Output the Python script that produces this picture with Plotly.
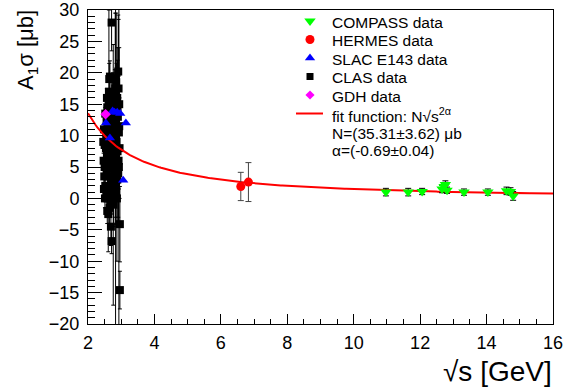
import numpy as np
import plotly.graph_objects as go

W, H = 578, 392
PL, PR, PT, PB = 88, 553, 10, 324  # plot area in pixels

# ---------------- data ----------------
compass_x = [10.97, 11.64, 12.06, 12.66, 12.72, 12.76, 12.81, 13.32, 14.04, 14.60, 14.72, 14.80]
compass_y = [1.0, 1.0, 1.1, 1.5, 1.9, 2.2, 1.3, 1.0, 1.0, 1.2, 1.1, 0.4]
compass_e = [0.6, 0.6, 0.5, 0.6, 0.6, 0.6, 0.5, 0.5, 0.5, 0.6, 0.6, 0.7]

hermes_x = [6.60, 6.83]
hermes_y = [1.9, 2.6]
hermes_e = [2.25, 3.1]

slac_x = [2.54, 2.66, 2.74, 2.80, 2.88, 2.97, 3.14, 3.06]
slac_y = [12.0, 9.6, 13.9, 13.7, 13.7, 13.5, 12.0, 2.9]

gdh_x = [2.53]
gdh_y = [13.4]

clas_x = [2.71, 2.91, 2.66, 2.76, 2.85, 2.82, 2.70, 2.62, 2.88, 2.58,
          2.67, 2.74, 2.79, 2.56, 2.60, 2.64, 2.69, 2.73, 2.78, 2.84,
          2.90, 2.93, 2.55, 2.59, 2.63, 2.68, 2.72, 2.77, 2.81, 2.86,
          2.89, 2.54, 2.57, 2.61, 2.66, 2.70, 2.75, 2.80, 2.85, 2.92,
          2.53, 2.56, 2.60, 2.64, 2.69, 2.74, 2.79, 2.83, 2.88, 2.52,
          2.55, 2.59, 2.62, 2.67, 2.72, 2.77, 2.82, 2.51, 2.58, 2.65,
          2.71, 2.96, 2.69, 2.96, 2.83, 2.93, 2.76, 2.63, 2.87, 2.61,
          2.48, 2.50, 2.47, 2.49, 2.52, 2.46, 2.50, 2.48, 2.94, 2.95,
          2.91, 2.94, 2.89, 2.92, 2.57, 2.68, 2.75, 2.81, 2.86, 2.64]
clas_y = [28.0, 20.2, 19.4, 19.0, 18.5, 17.5, 16.8, 15.5, 16.0, 14.5,
          14.0, 13.5, 14.8, 12.8, 12.0, 11.5, 12.5, 11.0, 12.2, 11.8,
          13.0, 10.5, 10.0, 9.5, 10.5, 9.0, 8.5, 9.8, 8.0, 9.0,
          7.5, 8.0, 7.0, 6.5, 7.5, 6.0, 5.5, 6.8, 5.0, 6.0,
          5.5, 4.5, 3.5, 4.8, 3.0, 2.5, 3.8, 2.0, 3.0, 2.0,
          1.0, 0.0, 1.5, -0.5, 0.5, -1.0, 0.8, 0.0, -2.0, -1.5,
          -6.8, -4.1, -4.5, -14.6, 4.0, 5.0, 1.0, 17.0, 0.0, -2.5,
          11.0, 8.5, 6.0, 3.5, 13.5, 9.0, 5.0, 1.5, 15.0, 8.0,
          4.0, 11.5, 14.0, 17.5, 16.0, 15.0, 16.5, 15.5, 14.5, 19.0]
clas_e = [4.5, 9.0, 2.5, 5.5, 11.0, 12.0, 3.0, 2.0, 8.0, 1.5,
          2.0, 3.5, 5.0, 1.2, 1.5, 2.0, 2.5, 3.0, 4.0, 6.0,
          7.0, 9.0, 1.0, 1.2, 1.5, 2.0, 2.5, 3.5, 4.5, 6.0,
          8.0, 1.0, 1.2, 1.5, 2.0, 2.5, 3.0, 4.0, 5.5, 10.0,
          1.0, 1.2, 1.5, 2.0, 2.5, 3.0, 4.0, 5.0, 7.0, 1.0,
          1.5, 2.0, 2.0, 2.5, 3.0, 3.5, 5.0, 1.5, 2.0, 2.5,
          2.0, 6.0, 3.0, 3.0, 28.0, 26.0, 18.0, 13.0, 10.0, 6.0,
          1.0, 1.0, 1.2, 1.2, 1.0, 1.0, 1.5, 1.5, 9.0, 8.0,
          7.0, 9.0, 8.0, 11.0, 1.5, 2.5, 3.5, 5.0, 7.0, 2.5]

fit_N = 35.31
fit_alpha = -0.69
fit_x = np.linspace(2.0, 16.0, 300)
fit_y = fit_N * fit_x ** (2 * fit_alpha)

FONT = "Liberation Sans, Arial, Helvetica, sans-serif"


def err(arr, w=2, color="black"):
    return dict(type="data", array=arr, visible=True, color=color, thickness=1, width=w)


fig = go.Figure()

fig.add_trace(go.Scatter(x=clas_x, y=clas_y, mode="markers", error_y=err(clas_e),
                         marker=dict(symbol="square", size=8, color="black"), showlegend=False))
fig.add_trace(go.Scatter(x=fit_x, y=fit_y, mode="lines", line=dict(color="#ff0000", width=2),
                         showlegend=False, hoverinfo="skip"))
fig.add_trace(go.Scatter(x=slac_x, y=slac_y, mode="markers",
                         marker=dict(symbol="triangle-up", size=9, color="#0000ff"), showlegend=False))
fig.add_trace(go.Scatter(x=gdh_x, y=gdh_y, mode="markers",
                         marker=dict(symbol="diamond", size=8, color="#ff00ff"), showlegend=False))
fig.add_trace(go.Scatter(x=hermes_x, y=hermes_y, mode="markers", error_y=err(hermes_e, 3, "#444444"),
                         marker=dict(symbol="circle", size=9, color="#ff0000"), showlegend=False))
fig.add_trace(go.Scatter(x=compass_x, y=compass_y, mode="markers", error_y=err(compass_e, 3),
                         marker=dict(symbol="triangle-down", size=10, color="#00ff00"), showlegend=False))

# ------------- hand-made legend (pixel coordinates inside the frame) -------------
leg_mx = 310 - PL
rows = [21, 39.5, 58, 76.5, 95, 113.5, 132, 149]
leg_markers = [("triangle-down", 10, "#00ff00"), ("circle", 9, "#ff0000"),
               ("triangle-up", 9, "#0000ff"), ("square", 7, "black"), ("diamond", 7, "#ff00ff")]
for (sym, sz, col), ry in zip(leg_markers, rows[:5]):
    fig.add_trace(go.Scatter(x=[leg_mx], y=[ry - PT], xaxis="x2", yaxis="y2", mode="markers",
                             marker=dict(symbol=sym, size=sz, color=col), showlegend=False,
                             hoverinfo="skip"))
fig.add_trace(go.Scatter(x=[296 - PL, 323 - PL], y=[rows[5] - PT, rows[5] - PT], xaxis="x2", yaxis="y2",
                         mode="lines", line=dict(color="#ff0000", width=2), showlegend=False,
                         hoverinfo="skip"))

leg_texts = ["COMPASS data", "HERMES data", "SLAC E143 data", "CLAS data", "GDH data",
             "fit function: N√s<sup>2α</sup>", "N=(35.31±3.62) μb", "α=(-0.69±0.04)"]
annotations = []
for t, ry in zip(leg_texts, rows):
    annotations.append(dict(x=330 - PL, y=ry - PT + 1, xref="x2", yref="y2", text=t, showarrow=False,
                            xanchor="left", yanchor="middle", font=dict(size=15.5, color="black", family=FONT)))


def pxx(p):
    return (p - PL) / (PR - PL)


def pxy(p):
    return (PB - p) / (PB - PT)


annotations.append(dict(x=pxx(PR + 1), y=pxy(371), xref="paper", yref="paper", text="√s [GeV]",
                        showarrow=False, xanchor="right", yanchor="middle",
                        font=dict(size=28, color="black", family=FONT)))
annotations.append(dict(x=pxx(27), y=pxy(8), xref="paper", yref="paper", text="A<sub>1</sub>σ [μb]",
                        showarrow=False, xanchor="center", yanchor="top", textangle=-90,
                        font=dict(size=22, color="black", family=FONT)))

axis_common = dict(showline=True, linecolor="black", linewidth=1, mirror=True, showgrid=False,
                   zeroline=False, ticks="inside", tickcolor="black", tickwidth=1, automargin=False,
                   tickfont=dict(size=18, color="black", family=FONT))

fig.update_layout(
    width=W, height=H,
    margin=dict(l=PL, r=W - PR, t=PT, b=H - PB, pad=0, autoexpand=False),
    paper_bgcolor="white", plot_bgcolor="white",
    font=dict(family=FONT, color="black"),
    xaxis=dict(range=[2, 16], tick0=2, dtick=2, ticklen=10,
               minor=dict(dtick=0.5, ticklen=5, ticks="inside", tickcolor="black"),
               ticklabelstandoff=2, **axis_common),
    yaxis=dict(range=[-20, 30], tick0=-20, dtick=5, ticklen=14,
               minor=dict(dtick=1, ticklen=7, ticks="inside", tickcolor="black"),
               ticklabelstandoff=4, **axis_common),
    xaxis2=dict(overlaying="x", anchor="y2", range=[0, PR - PL], visible=False, fixedrange=True),
    yaxis2=dict(overlaying="y", anchor="x2", range=[PB - PT, 0], visible=False, fixedrange=True),
    annotations=annotations,
    showlegend=False,
)

fig.write_html("out.html", config={"displayModeBar": False},
               post_script="document.body.style.margin='0';document.body.style.padding='0';")
